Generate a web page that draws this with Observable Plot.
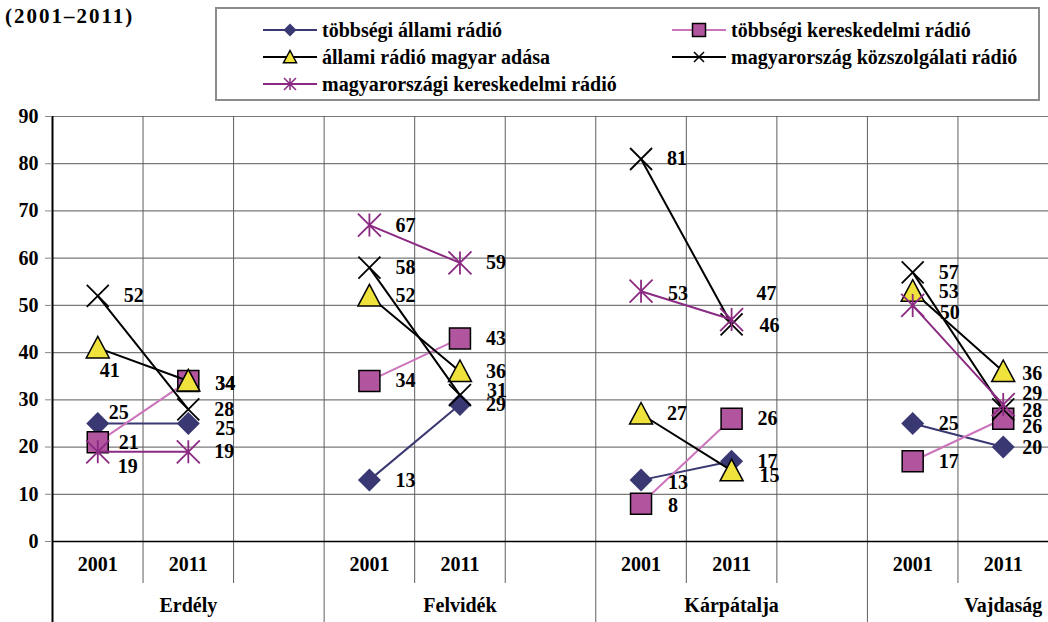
<!DOCTYPE html>
<html><head><meta charset="utf-8">
<script src="https://cdn.jsdelivr.net/npm/d3@7"></script>
<script src="https://cdn.jsdelivr.net/npm/@observablehq/plot@0.6"></script>
<style>
body{margin:0;background:#fff;font-family:'Liberation Serif','Times New Roman',serif;font-weight:bold;color:#000;}
#wrap{position:relative;width:1048px;height:622px;overflow:hidden;}
#head{position:relative;height:104px;}
#title{position:absolute;left:5px;top:4px;font-size:21px;line-height:24px;letter-spacing:2px;}
#legend{position:absolute;left:215px;top:7px;width:825px;height:94px;box-sizing:border-box;border:2px solid #8c8c8c;}
.item{position:absolute;display:flex;align-items:center;font-size:20px;height:22px;white-space:nowrap;}
.item svg{margin-right:5px;}
#chart svg{display:block;}
</style></head>
<body><div id="wrap"><div id="head"><div id="title">(2001–2011)</div><div id="legend"></div></div><div id="chart"></div></div>
<script>
// ---- data ----
const regions = ["Erdély", "Felvidék", "Kárpátalja", "Vajdaság"];
const years = ["2001", "2011"];
const seriesNames = [
  "többségi állami rádió",
  "többségi kereskedelmi rádió",
  "állami rádió magyar adása",
  "magyarország közszolgálati rádió",
  "magyarországi kereskedelmi rádió"
];
// values per region, 2001 then 2011: Erdély, Felvidék, Kárpátalja, Vajdaság
const tobbsegiAllami       = [25, 25, 13, 29, 13, 17, 25, 20];
const tobbsegiKereskedelmi = [21, 34, 34, 43,  8, 26, 17, 26];
const allamiMagyarAdas     = [41, 34, 52, 36, 27, 15, 53, 36];
const moKozszolgalati      = [52, 28, 58, 31, 81, 46, 57, 28];
const moKereskedelmi       = [19, 19, 67, 59, 53, 47, 50, 29];
const seriesValues = [tobbsegiAllami, tobbsegiKereskedelmi, allamiMagyarAdas, moKozszolgalati, moKereskedelmi];
const yTicks = [0, 10, 20, 30, 40, 50, 60, 70, 80, 90];

// ---- styles ----
const FONT = "'Liberation Serif', 'Times New Roman', serif";
const lineColors = ["#3a3872", "#cc74bb", "#000000", "#000000", "#8b2a82"];
const markFill   = ["#3a3872", "#b0559e", "#f0e23c", "none", "none"];
const markStroke = ["none", "#000000", "#000000", "#000000", "#8b2a82"];
const markR      = [11.5, 10.5, 11.5, 11, 11.5];

const symDiamond = {draw(c, s){const r=Math.sqrt(s/Math.PI);c.moveTo(0,-r);c.lineTo(r,0);c.lineTo(0,r);c.lineTo(-r,0);c.closePath();}};
const symSquare = {draw(c, s){const r=Math.sqrt(s/Math.PI);c.rect(-r,-r,2*r,2*r);}};
const symTriangle = {draw(c, s){const r=Math.sqrt(s/Math.PI);c.moveTo(0,-r);c.lineTo(r,r*0.88);c.lineTo(-r,r*0.88);c.closePath();}};
const symTimes = {draw(c, s){const r=Math.sqrt(s/Math.PI);c.moveTo(-r,-r);c.lineTo(r,r);c.moveTo(-r,r);c.lineTo(r,-r);}};
const symStar = {draw(c, s){const r=Math.sqrt(s/Math.PI);c.moveTo(-r,-r);c.lineTo(r,r);c.moveTo(-r,r);c.lineTo(r,-r);c.moveTo(0,-r);c.lineTo(0,r);}};
const symbols = [symDiamond, symSquare, symTriangle, symTimes, symStar];

// label nudges [series, pointIndex, dx, dy]
const labelNudges = [
  [0,0,21,-11],[2,0,12,23],[4,0,30,15],[1,0,31,0],[1,1,37,3],[2,1,37,3],[0,1,37,5],
  [3,3,37,-5],
  [4,4,37,2],[4,5,35,-26],[3,5,38,1],[2,5,38,5],[1,4,32,2],[0,4,37,2],
  [4,6,37,7],
  [2,7,29,2],[4,7,29,-11],[3,7,29,1],[1,7,29,8],[0,7,29,1]
];

// ---- table ----
const rows = [];
seriesValues.forEach((vals, s) => {
  vals.forEach((v, i) => {
    const r = Math.floor(i / 2), yi = i % 2;
    rows.push({s, i, series: seriesNames[s], region: regions[r], year: years[yi], value: v, slot: r * 3 + yi + 0.5});
  });
});

const slotW = 996 / 11;
const marks = [];
// gridlines
marks.push(Plot.ruleY(yTicks.filter(d => d > 0), {y: d => d, stroke: "#7a7a7a", strokeWidth: 1.2}));
const inner = [1, 2, 4, 5, 7, 8, 10, 11];
marks.push(Plot.ruleX(inner, {x: d => d, y1: yTicks[yTicks.length - 1], y2: 0, stroke: "#5e5e5e", strokeWidth: 1, insetBottom: -42}));
marks.push(Plot.ruleX([3, 6, 9], {x: d => d, stroke: "#5e5e5e", strokeWidth: 1}));
marks.push(Plot.ruleX([0], {x: d => d, stroke: "#000", strokeWidth: 2}));
marks.push(Plot.ruleY([0], {y: d => d, stroke: "#000", strokeWidth: 1.5}));
marks.push(Plot.axisY({ticks: yTicks, tickSize: 7, tickPadding: 7, stroke: "#888", fontSize: 20, fontWeight: "bold", fontFamily: FONT, label: null}));

// series
seriesValues.forEach((vals, s) => {
  const data = rows.filter(d => d.s === s);
  marks.push(Plot.line(data, {x: "slot", y: "value", z: "region", stroke: lineColors[s], strokeWidth: 2}));
  marks.push(Plot.dot(data, {x: "slot", y: "value", symbol: symbols[s], r: markR[s],
    fill: markFill[s], stroke: markStroke[s], strokeWidth: s >= 3 ? 1.8 : 1.5}));
});
// value labels
rows.forEach(d => {
  const n = labelNudges.find(e => e[0] === d.s && e[1] === d.i);
  const dx = n ? n[2] : 36, dy = n ? n[3] : 0;
  marks.push(Plot.text([d], {x: "slot", y: "value", text: d => String(d.value), dx, dy,
    fontSize: 20, fontWeight: "bold", fontFamily: FONT, fill: "#000"}));
});
// x labels
const yearLabels = [];
regions.forEach((r, ri) => years.forEach((y, yi) => yearLabels.push({label: y, slot: ri * 3 + yi + 0.5})));
marks.push(Plot.text(yearLabels, {x: "slot", text: "label", frameAnchor: "bottom", dy: -52, fontSize: 20, fontWeight: "bold", fontFamily: FONT}));
marks.push(Plot.text(regions.map((r, ri) => ({label: r, slot: ri * 3 + 1.5})), {x: "slot", text: "label", frameAnchor: "bottom", dy: -11, fontSize: 20, fontWeight: "bold", fontFamily: FONT}));

const chart = Plot.plot({
  width: 1048, height: 518,
  marginLeft: 52, marginRight: 0, marginTop: 12, marginBottom: 0,
  style: {fontFamily: FONT, fontWeight: "bold", fontSize: "20px", color: "#000", background: "#fff", overflow: "hidden"},
  x: {type: "linear", domain: [0, 12], range: [52, 52 + 12 * slotW], axis: null},
  y: {domain: [0, 90], range: [437, 12], axis: null},
  marks
});
document.getElementById("chart").appendChild(chart);

// ---- legend ----
const legend = document.getElementById("legend");
const legendPos = [[46, 21], [455, 21], [46, 48], [455, 48], [46, 75]];
const legR = [6.5, 6.5, 6.5, 5, 6];
seriesNames.forEach((name, s) => {
  const item = document.createElement("div");
  item.className = "item";
  item.style.left = legendPos[s][0] + "px";
  item.style.top = (legendPos[s][1] - 11) + "px";
  const sv = d3.create("svg").attr("width", 54).attr("height", 22);
  sv.append("line").attr("x1", 0).attr("x2", 54).attr("y1", 11).attr("y2", 11).attr("stroke", lineColors[s]).attr("stroke-width", 2);
  sv.append("path").attr("transform", "translate(27,11)")
    .attr("d", d3.symbol(symbols[s], Math.PI * legR[s] * legR[s])())
    .attr("fill", markFill[s]).attr("stroke", markStroke[s]).attr("stroke-width", 1.5);
  item.appendChild(sv.node());
  const t = document.createElement("span");
  t.textContent = name;
  item.appendChild(t);
  legend.appendChild(item);
});
</script>
</body></html>
